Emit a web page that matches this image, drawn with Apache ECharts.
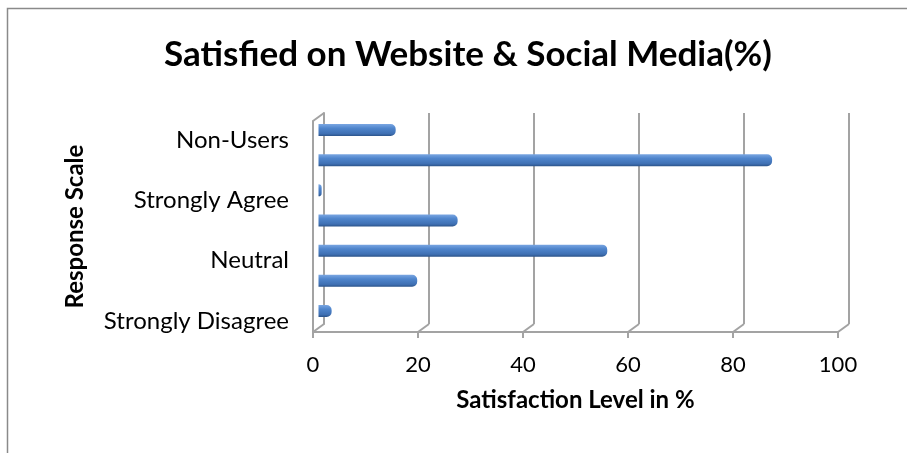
<!DOCTYPE html>
<html>
<head>
<meta charset="utf-8">
<script src="https://cdn.jsdelivr.net/npm/echarts@6/dist/echarts.min.js"></script>
<style>
  html, body { margin: 0; padding: 0; background: #fff; }
  #chart { width: 907px; height: 453px; }
</style>
</head>
<body>
<div id="chart"></div>
<script>
// Survey data: share of respondents per response (%)
const categories = ["Strongly Disagree", "Disagree", "Neutral", "Agree", "Strongly Agree", "Users", "Non-Users"];
const satisfaction = [2.5, 18.8, 55.0, 26.5, 0.6, 86.4, 14.7];
const xTicks = [0, 20, 40, 60, 80, 100];

const titleText = "Satisfied on Website & Social Media(%)";
const xName = "Satisfaction Level in %";
const yName = "Response Scale";

// Plot box: a front plane (axes), a back plane (walls & gridlines),
// a mid plane for the bars and a slightly lowered band for category labels
const W = 907, H = 453;
const FRONT  = { left: 313, right: 838, top: 121, bottom: 332 };
const BACK   = { left: 324, right: 849, top: 113, bottom: 324 };
const BARS   = { left: 318.5, right: 843.5, top: 115, bottom: 326 };
const LABELS = { left: 313, right: 838, top: 125, bottom: 336 };

const WALL = '#a3a3a3';
const FONT = 'Lato';

function gridOf(r) {
  return { left: r.left, right: W - r.right, top: r.top, bottom: H - r.bottom, containLabel: false };
}

const chart = echarts.init(document.getElementById('chart'), null, { renderer: 'canvas' });

chart.setOption({
  animation: false,
  backgroundColor: '#fff',
  title: {
    text: titleText,
    left: 463,
    top: 32,
    textAlign: 'center',
    textStyle: { fontFamily: FONT, fontWeight: 'bold', fontSize: 35, color: '#000' }
  },
  grid: [gridOf(FRONT), gridOf(BACK), gridOf(BARS), gridOf(LABELS)],
  xAxis: [
    {
      type: 'value', gridIndex: 0, min: 0, max: 100, interval: 20,
      axisLine: { show: true, lineStyle: { color: WALL, width: 2 } },
      axisTick: { show: true, inside: false, length: 6, lineStyle: { color: WALL, width: 2 } },
      axisLabel: { margin: 22, fontFamily: FONT, fontSize: 22, color: '#000' },
      splitLine: { show: false },
      name: xName, nameLocation: 'middle', nameGap: 56,
      nameTextStyle: { fontFamily: FONT, fontWeight: 'bold', fontSize: 24, color: '#000' }
    },
    {
      type: 'value', gridIndex: 1, min: 0, max: 100, interval: 20,
      axisLine: { show: false }, axisTick: { show: false }, axisLabel: { show: false },
      splitLine: { show: true, lineStyle: { color: WALL, width: 2 } }
    },
    {
      type: 'value', gridIndex: 2, min: 0, max: 100, interval: 20, show: false,
      splitLine: { show: false }
    },
    {
      type: 'value', gridIndex: 3, min: 0, max: 100, interval: 20, show: false,
      splitLine: { show: false }
    }
  ],
  yAxis: [
    {
      type: 'category', gridIndex: 0, data: categories,
      axisLine: { show: true, lineStyle: { color: WALL, width: 2 } },
      axisTick: { show: false }, axisLabel: { show: false },
      name: yName, nameLocation: 'middle', nameRotate: 90, nameGap: 226,
      nameTextStyle: { fontFamily: FONT, fontWeight: 'bold', fontSize: 24, color: '#000' }
    },
    {
      type: 'category', gridIndex: 1, data: categories,
      axisLine: { show: true, lineStyle: { color: WALL, width: 2 } },
      axisTick: { show: false }, axisLabel: { show: false }
    },
    {
      type: 'category', gridIndex: 2, data: categories, show: false
    },
    {
      type: 'category', gridIndex: 3, data: categories,
      axisLine: { show: false }, axisTick: { show: false },
      axisLabel: { interval: 1, margin: 24, fontFamily: FONT, fontSize: 24, color: '#000' }
    }
  ],
  series: [{
    type: 'bar',
    xAxisIndex: 2,
    yAxisIndex: 2,
    data: satisfaction,
    barWidth: 12,
    itemStyle: {
      borderRadius: [0, 5, 5, 0],
      color: new echarts.graphic.LinearGradient(0, 0, 0, 1, [
        { offset: 0, color: '#7aa6e2' },
        { offset: 0.35, color: '#4f85cc' },
        { offset: 0.8, color: '#3f70b3' },
        { offset: 1, color: '#2b5389' }
      ])
    }
  }]
});

// Depth edges: floor diagonals at each tick, top-left wall edge, and the outer frame
const edges = xTicks.map(function (t) {
  const xf = chart.convertToPixel({ xAxisIndex: 0 }, t);
  const xb = chart.convertToPixel({ xAxisIndex: 1 }, t);
  return {
    type: 'line',
    shape: { x1: xb, y1: BACK.bottom, x2: xf, y2: FRONT.bottom },
    style: { stroke: WALL, lineWidth: 2 },
    z: 5
  };
});
edges.push({
  type: 'line',
  shape: { x1: FRONT.left, y1: FRONT.top, x2: BACK.left, y2: BACK.top },
  style: { stroke: WALL, lineWidth: 2 },
  z: 5
});
edges.push({
  type: 'rect',
  shape: { x: 7.5, y: 8.5, width: 1200, height: 1200 },
  style: { fill: 'none', stroke: '#8a8a8a', lineWidth: 1.5 },
  silent: true,
  z: 5
});
chart.setOption({ graphic: edges });
</script>
</body>
</html>
